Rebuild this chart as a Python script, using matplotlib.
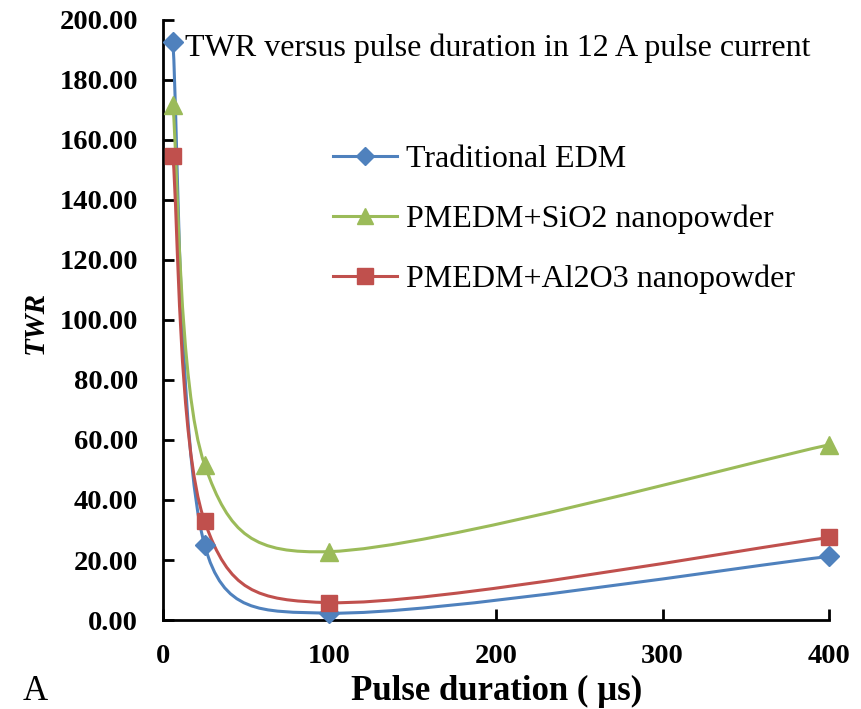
import numpy as np
import matplotlib
matplotlib.use("Agg")
import matplotlib.pyplot as plt
from matplotlib.path import Path
from matplotlib.patches import PathPatch
from matplotlib.lines import Line2D

plt.rcParams['font.family'] = ['Liberation Serif', 'DejaVu Serif']

pulse_duration = [6, 25, 100, 400]
twr_traditional = [192.5, 25.0, 2.3, 21.2]
twr_sio2 = [171.5, 51.8, 22.8, 58.4]
twr_al2o3 = [154.5, 32.9, 5.8, 27.5]

series_names = ["Traditional EDM", "PMEDM+SiO2 nanopowder", "PMEDM+Al2O3 nanopowder"]
series_colors = ["#4F81BD", "#9BBB59", "#C0504D"]
series_markers = ["D", "^", "s"]
series_msize = [10, 13, 12]
x_ticks = [0, 100, 200, 300, 400]
y_ticks = list(range(0, 201, 20))

fig = plt.figure(figsize=(8.62, 7.09), dpi=100)
ax = fig.add_axes([0.189, 0.1255, 0.773, 0.8465])
ax.set_xlim(0, 400)
ax.set_ylim(0, 200)


def excel_smooth_path(xs, ys):
    pts = ax.transData.transform(np.column_stack([xs, ys]))
    n = len(pts)
    verts = [pts[0]]
    codes = [Path.MOVETO]
    for i in range(n - 1):
        p0 = pts[i - 1] if i > 0 else pts[i]
        p1 = pts[i]
        p2 = pts[i + 1]
        p3 = pts[i + 2] if i + 2 < n else pts[i + 1]
        d12 = np.hypot(*(p2 - p1))
        d02 = np.hypot(*(p2 - p0))
        d13 = np.hypot(*(p3 - p1))
        f1 = 1 / 6
        if d02 / 6 >= d12 / 2 and d02 > 0:
            f1 = d12 / (2 * d02)
        f2 = 1 / 6
        if d13 / 6 >= d12 / 2 and d13 > 0:
            f2 = d12 / (2 * d13)
        c1 = p1 + f1 * (p2 - p0)
        c2 = p2 - f2 * (p3 - p1)
        verts += [c1, c2, p2]
        codes += [Path.CURVE4] * 3
    verts = ax.transData.inverted().transform(np.array(verts))
    return Path(verts, codes)


all_series = [twr_traditional, twr_sio2, twr_al2o3]
handles = []
for ys, name, col, mk, ms in zip(all_series, series_names, series_colors, series_markers, series_msize):
    path = excel_smooth_path(pulse_duration, ys)
    ax.add_patch(PathPatch(path, facecolor='none', edgecolor=col, lw=2.2, clip_on=False, zorder=2))
    ax.plot(pulse_duration, ys, linestyle='none', marker=mk, markersize=ms, color=col,
            markeredgecolor=col, clip_on=False, zorder=3)
    handles.append(Line2D([0], [0], color=col, lw=2.2, marker=mk, markersize=ms - 1, markeredgecolor=col))

for s in ['top', 'right']:
    ax.spines[s].set_visible(False)
for s in ['left', 'bottom']:
    ax.spines[s].set_linewidth(2)
    ax.spines[s].set_color('black')

ax.set_xticks(x_ticks)
ax.set_yticks(y_ticks)
ax.set_yticklabels([f"{v:.2f}" for v in y_ticks])
ax.tick_params(axis='both', direction='in', length=8, width=2, labelsize=20.5)
ax.tick_params(axis='y', pad=18)
ax.tick_params(axis='x', pad=17)
for lab in ax.get_xticklabels() + ax.get_yticklabels():
    lab.set_fontweight('bold')

ax.text(0.033, 0.953, "TWR versus pulse duration in 12 A pulse current", transform=ax.transAxes,
        fontsize=23, va='center', ha='left')

leg = ax.legend(handles, series_names, loc='upper left', bbox_to_anchor=(0.255, 0.792),
                frameon=False, fontsize=23, handlelength=2.0, handletextpad=0.3,
                labelspacing=0.96, borderpad=0, borderaxespad=0)

fig.text(35 / 862, 1 - 322 / 709, "TWR", rotation=90, fontsize=21, fontweight='bold',
         fontstyle='italic', ha='center', va='center')
fig.text(497 / 862, 1 - 691 / 709, "Pulse duration ( µs)", fontsize=25, fontweight='bold',
         ha='center', va='center')
fig.text(35 / 862, 1 - 691 / 709, "A", fontsize=25, ha='center', va='center')

fig.savefig("out.png", dpi=100)
